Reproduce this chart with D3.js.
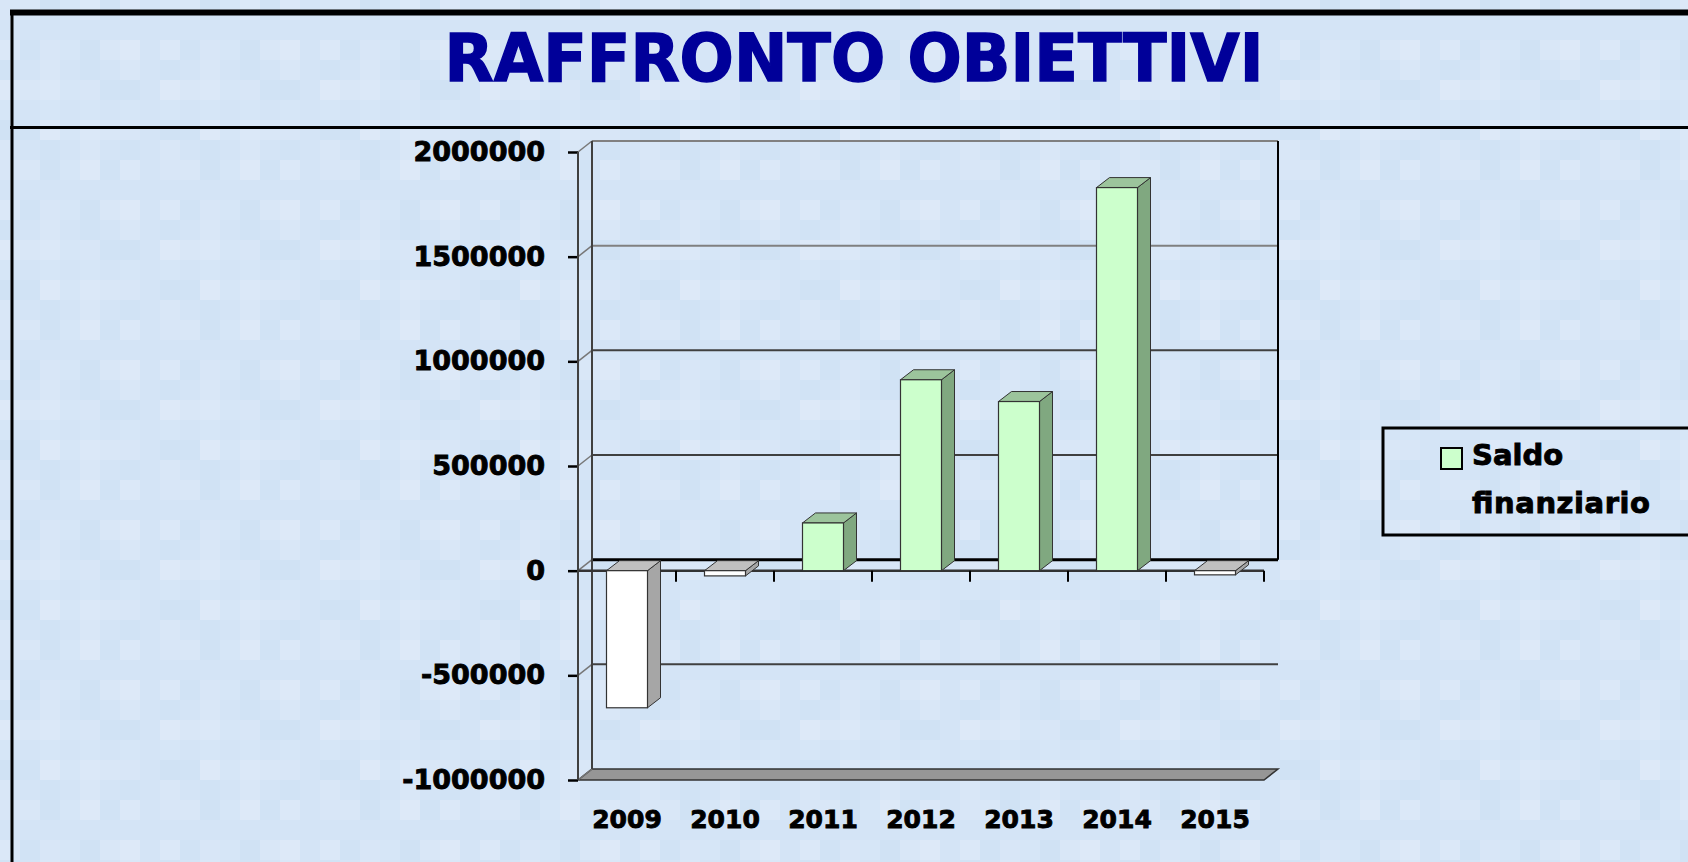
<!DOCTYPE html>
<html lang="it">
<head>
<meta charset="UTF-8">
<title>Raffronto obiettivi</title>
<script src="https://d3js.org/d3.v7.min.js"></script>
<style>
  body { margin: 0; overflow: hidden; background: #d7e6f7; }
  svg text { font-family: "DejaVu Sans", sans-serif; font-weight: bold; }
</style>
</head>
<body>
<svg width="1688" height="862"></svg>
<script>
// dati
var years = ['2009', '2010', '2011', '2012', '2013', '2014', '2015'];
var saldo = [-655000, -25000, 228000, 912000, 808000, 1830000, -20000];
var yTicks = [-1000000, -500000, 0, 500000, 1000000, 1500000, 2000000];
var legendLines = ['Saldo', 'finanziario'];
var title = 'RAFFRONTO OBIETTIVI';

var svg = d3.select('svg');
var W = 1688, H = 862;

// sfondo a mosaico (solo decorazione)
var tiles = ['#d8e6f7', '#d4e4f6', '#dbe8f8', '#d1e3f5', '#dde9f8', '#d6e6f7', '#d0e2f4', '#d9e7f7'];
var bg = svg.append('g');
for (var i = 0; i < W / 20; i++) {
    for (var j = 0; j < H / 20; j++) {
        var h = ((i * 7919) ^ (j * 104729) ^ (i * j * 31)) >>> 0;
        bg.append('rect').attr('x', i * 20).attr('y', j * 20)
            .attr('width', 20).attr('height', 20)
            .attr('fill', tiles[h % tiles.length]);
    }
}

// cornice
svg.append('line').attr('x1', 10).attr('x2', W).attr('y1', 12.5).attr('y2', 12.5)
    .attr('stroke', '#000').attr('stroke-width', 6);
svg.append('line').attr('x1', 12).attr('x2', 12).attr('y1', 10).attr('y2', H)
    .attr('stroke', '#000').attr('stroke-width', 3);
svg.append('line').attr('x1', 10).attr('x2', W).attr('y1', 127.5).attr('y2', 127.5)
    .attr('stroke', '#000').attr('stroke-width', 3);

// titolo
svg.append('text').attr('x', 854).attr('y', 81)
    .attr('text-anchor', 'middle')
    .attr('font-size', 66)
    .attr('fill', '#000099')
    .attr('stroke', '#000099').attr('stroke-width', 1.5)
    .attr('textLength', 819).attr('lengthAdjust', 'spacingAndGlyphs')
    .text(title);

// scale
var x = d3.scaleBand().domain(years).range([578, 1264]);
var y = d3.scaleLinear().domain([-1000000, 2000000]).range([780, 152]);
var dx = 14, dy = -11;     // profondita' pareti
var bdx = 13, bdy = -10;   // profondita' barre
var barW = 41;

var plot = svg.append('g');

// pavimento
var yFloor = y(-1000000);
plot.append('polygon')
    .attr('points', [[578, yFloor], [578 + dx, yFloor + dy], [1264 + dx, yFloor + dy], [1264, yFloor]].join(' '))
    .attr('fill', '#969696').attr('stroke', '#333').attr('stroke-width', 1.5);

// griglia sulla parete di fondo
var gridTicks = yTicks.filter(function (t) { return t > -1000000; });
plot.selectAll('.grid').data(gridTicks).enter().append('line')
    .attr('x1', 578 + dx).attr('x2', 1264 + dx)
    .attr('y1', function (t) { return y(t) + dy; })
    .attr('y2', function (t) { return y(t) + dy; })
    .attr('stroke', function (t) { return t === 0 ? '#000' : (t >= 1500000 ? '#808080' : '#404040'); })
    .attr('stroke-width', function (t) { return t === 0 ? 3 : 2; });

// linee oblique sulla parete laterale
plot.selectAll('.slant').data(yTicks).enter().append('line')
    .attr('x1', 578).attr('x2', 578 + dx)
    .attr('y1', function (t) { return y(t); })
    .attr('y2', function (t) { return y(t) + dy; })
    .attr('stroke', '#777').attr('stroke-width', 1.5);

// bordi verticali pareti
plot.append('line').attr('x1', 578 + dx).attr('x2', 578 + dx)
    .attr('y1', y(2000000) + dy).attr('y2', yFloor + dy)
    .attr('stroke', '#404040').attr('stroke-width', 2);
plot.append('line').attr('x1', 1264 + dx).attr('x2', 1264 + dx)
    .attr('y1', y(2000000) + dy).attr('y2', y(0) + dy)
    .attr('stroke', '#000').attr('stroke-width', 2);

// asse dello zero (fronte) con tacche
var y0 = y(0);
plot.append('line').attr('x1', 578).attr('x2', 1264).attr('y1', y0).attr('y2', y0)
    .attr('stroke', '#333').attr('stroke-width', 2.5);
var bounds = years.map(function (d) { return x(d); }).concat([x.range()[1]]);
plot.selectAll('.xtick').data(bounds).enter().append('line')
    .attr('x1', function (d) { return d; }).attr('x2', function (d) { return d; })
    .attr('y1', y0).attr('y2', y0 + 11)
    .attr('stroke', '#000').attr('stroke-width', 2);

// barre 3D
var bars = plot.selectAll('.bar').data(saldo).enter().append('g');
function faces(v, i) {
    var xc = x(years[i]) + x.bandwidth() / 2;
    var x0 = xc - barW / 2, x1 = xc + barW / 2;
    var yt = Math.min(y(v), y0), yb = Math.max(y(v), y0);
    return { x0: x0, x1: x1, yt: yt, yb: yb };
}
bars.append('polygon')
    .attr('points', function (v, i) {
        var f = faces(v, i);
        return [[f.x1, f.yt], [f.x1 + bdx, f.yt + bdy], [f.x1 + bdx, f.yb + bdy], [f.x1, f.yb]].join(' ');
    })
    .attr('fill', function (v) { return v < 0 ? '#a6a6a6' : '#80a880'; })
    .attr('stroke', '#333').attr('stroke-width', 1);
bars.append('polygon')
    .attr('points', function (v, i) {
        var f = faces(v, i);
        return [[f.x0, f.yt], [f.x0 + bdx, f.yt + bdy], [f.x1 + bdx, f.yt + bdy], [f.x1, f.yt]].join(' ');
    })
    .attr('fill', function (v) { return v < 0 ? '#c0c0c0' : '#9cc49c'; })
    .attr('stroke', '#333').attr('stroke-width', 1);
bars.append('rect')
    .attr('x', function (v, i) { return faces(v, i).x0; })
    .attr('y', function (v, i) { return faces(v, i).yt; })
    .attr('width', barW)
    .attr('height', function (v, i) { var f = faces(v, i); return f.yb - f.yt; })
    .attr('fill', function (v) { return v < 0 ? '#ffffff' : '#ccffcc'; })
    .attr('stroke', '#333').attr('stroke-width', 1.2);

// asse y
var yAxis = svg.append('g').attr('transform', 'translate(578,0)')
    .call(d3.axisLeft(y).tickValues(yTicks).tickFormat(function (d) { return String(d); })
        .tickSize(10).tickPadding(23));
yAxis.select('.domain').remove();
yAxis.selectAll('.tick line').attr('stroke', '#000').attr('stroke-width', 2.5);
yAxis.selectAll('.tick text').attr('font-size', 27).attr('fill', '#000')
    .attr('stroke', '#000').attr('stroke-width', 0.9)
    .attr('font-family', 'DejaVu Sans').attr('font-weight', 'bold');
svg.append('line').attr('x1', 578).attr('x2', 578).attr('y1', y(2000000)).attr('y2', yFloor)
    .attr('stroke', '#404040').attr('stroke-width', 2);

// asse x (etichette)
var xAxis = svg.append('g').attr('transform', 'translate(0,' + yFloor + ')')
    .call(d3.axisBottom(x).tickSize(0).tickPadding(30));
xAxis.select('.domain').remove();
xAxis.selectAll('.tick text').attr('font-size', 25).attr('fill', '#000')
    .attr('stroke', '#000').attr('stroke-width', 0.9)
    .attr('font-family', 'DejaVu Sans').attr('font-weight', 'bold');

// legenda
var lg = svg.append('g');
lg.append('rect').attr('x', 1383).attr('y', 428).attr('width', 330).attr('height', 107)
    .attr('fill', 'none').attr('stroke', '#000').attr('stroke-width', 3);
lg.append('rect').attr('x', 1441).attr('y', 448).attr('width', 21).attr('height', 21)
    .attr('fill', '#ccffcc').attr('stroke', '#000').attr('stroke-width', 2);
lg.selectAll('.lt').data(legendLines).enter().append('text')
    .attr('x', 1472)
    .attr('y', function (d, i) { return 465 + i * 48; })
    .attr('font-size', 29)
    .attr('fill', '#000')
    .attr('stroke', '#000').attr('stroke-width', 0.9)
    .attr('textLength', function (d, i) { return i === 1 ? 178 : null; })
    .text(function (d) { return d; });
</script>
</body>
</html>
